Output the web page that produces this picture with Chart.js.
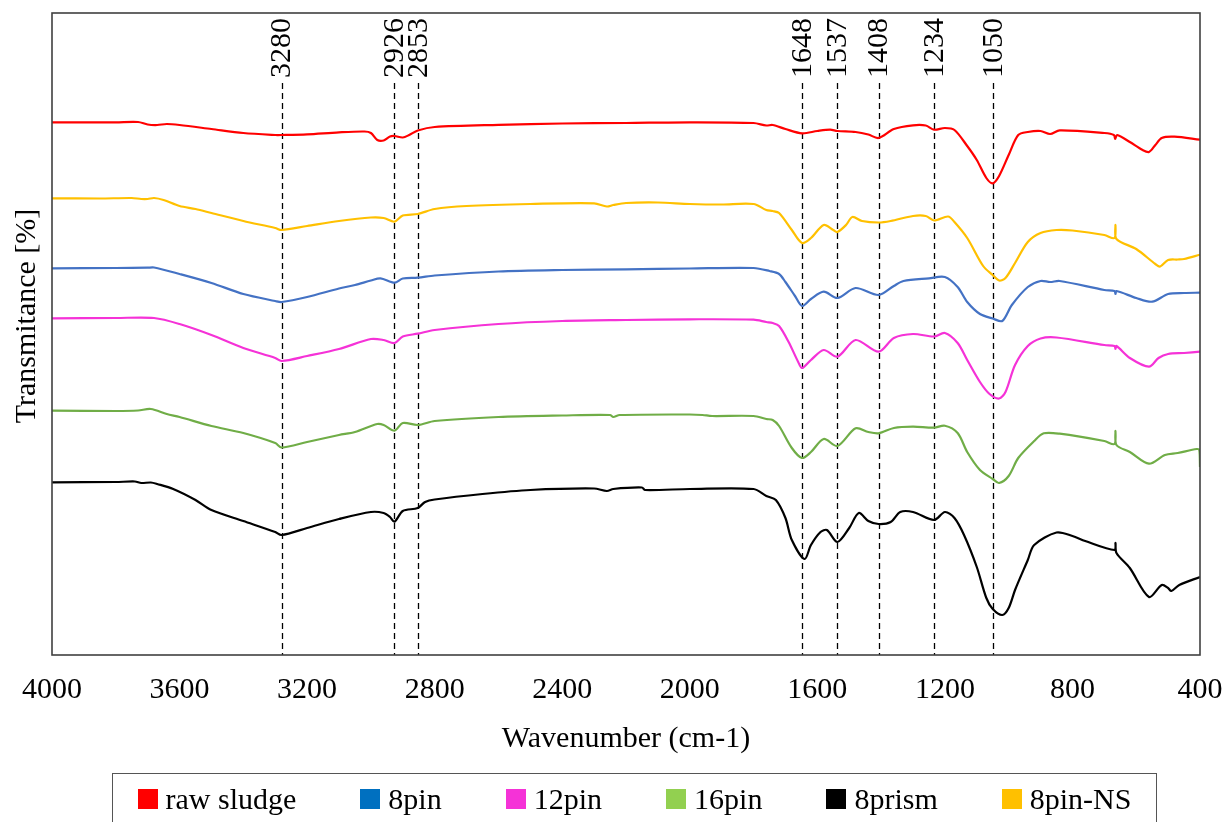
<!DOCTYPE html>
<html>
<head>
<meta charset="utf-8">
<script src="https://cdn.jsdelivr.net/npm/chart.js@4.4.1/dist/chart.umd.min.js"></script>
<style>
  html, body { margin: 0; padding: 0; background: #fff; }
  #wrap { position: relative; width: 1225px; height: 822px; overflow: hidden; font-family: "Liberation Serif", "Times New Roman", serif; }
  #c { position: absolute; left: 0; top: 0; }
  #legend { position: absolute; left: 112px; top: 773px; width: 1045px; height: 70px; border: 1.5px solid #555; box-sizing: border-box;
            display: flex; justify-content: center; align-items: flex-start; padding-top: 10px; gap: 64px; }
  .item { display: flex; align-items: center; font-size: 30px; color: #000; line-height: 30px; white-space: nowrap; }
  .sw { width: 20px; height: 20px; margin-right: 8px; }
</style>
</head>
<body>
<div id="wrap">
  <canvas id="c" width="1225" height="822"></canvas>
  <div id="legend"></div>
</div>
<script>
// ---- data (wavenumber cm-1, transmittance, offset spectra) ----
const seriesNames = ["raw sludge", "8pin", "12pin", "16pin", "8prism", "8pin-NS"];
const lineColors  = ["#FF0000", "#4472C4", "#F532D7", "#70AD47", "#000000", "#FFC000"];
const legendColors = ["#FF0000", "#0070C0", "#F532D7", "#92D050", "#000000", "#FFC000"];

const rawSludge = [[4000,53.27],[3800,53.27],[3730,53.3],[3700,53.05],[3670,53.0],[3640,53.1],[3600,53.0],[3500,52.6],[3400,52.2],[3300,52.0],
 [3280,52.0],[3200,52.07],[3100,52.27],[3020,52.35],[3000,52.2],[2980,51.5],[2960,51.45],[2940,51.85],[2926,51.9],[2900,51.75],
 [2880,52.0],[2853,52.45],[2800,52.8],[2600,53.02],[2400,53.15],[2200,53.2],[2000,53.27],[1800,53.2],[1760,52.95],[1740,53.0],
 [1700,52.6],[1648,52.17],[1600,52.4],[1560,52.53],[1537,52.4],[1480,52.3],[1440,52.05],[1408,51.7],[1360,52.6],[1300,52.97],
 [1260,52.95],[1234,52.53],[1200,52.7],[1170,52.5],[1130,50.9],[1100,49.5],[1070,47.7],[1050,47.17],[1030,47.9],[1000,50.0],
 [970,52.0],[940,52.3],[900,52.4],[870,52.1],[840,52.47],[700,52.2],[670,52.0],[666,51.6],[660,52.0],[620,51.3],
 [580,50.5],[560,50.3],[540,51.0],[520,51.7],[480,51.83],[400,51.53]];

const pin8 = [[4000,38.67],[3800,38.7],[3700,38.73],[3680,38.75],[3600,38.1],[3500,37.2],[3400,36.1],[3300,35.4],[3280,35.3],[3200,35.8],
 [3100,36.65],[3050,37.0],[3000,37.45],[2970,37.67],[2926,37.23],[2900,37.65],[2853,37.73],[2800,37.95],[2600,38.35],[2400,38.5],
 [2200,38.57],[2000,38.65],[1800,38.7],[1750,38.4],[1720,38.1],[1700,37.3],[1670,35.9],[1648,34.9],[1620,35.6],[1580,36.33],
 [1537,35.7],[1480,36.7],[1408,36.0],[1360,36.9],[1330,37.4],[1250,37.67],[1200,37.8],[1160,36.8],[1130,35.3],[1090,34.1],
 [1050,33.65],[1020,33.4],[990,35.0],[940,36.8],[900,37.4],[870,37.3],[840,37.4],[700,36.5],[668,36.4],[665,36.1],
 [662,36.4],[600,35.7],[550,35.33],[500,36.1],[450,36.2],[400,36.23]];

const pin12 = [[4000,33.67],[3800,33.7],[3680,33.7],[3600,33.1],[3500,32.0],[3400,30.7],[3300,29.7],[3280,29.4],[3200,29.9],[3100,30.6],
 [3000,31.6],[2960,31.5],[2926,31.2],[2900,31.85],[2853,32.13],[2800,32.5],[2600,33.1],[2400,33.4],[2200,33.5],[2000,33.57],
 [1800,33.53],[1760,33.3],[1740,33.2],[1720,32.9],[1690,31.3],[1660,29.3],[1648,28.7],[1620,29.5],[1580,30.5],[1537,29.83],
 [1480,31.5],[1408,30.33],[1360,31.7],[1300,32.1],[1234,31.85],[1200,32.2],[1160,31.2],[1130,29.5],[1090,27.3],[1060,26.1],
 [1030,25.65],[1010,26.3],[980,29.0],[940,30.9],[900,31.65],[850,31.75],[700,31.0],[668,30.9],[665,30.6],[662,30.9],
 [620,29.7],[560,28.83],[530,29.7],[500,30.1],[450,30.2],[400,30.33]];

const pin16 = [[4000,24.43],[3800,24.4],[3730,24.45],[3690,24.6],[3640,24.1],[3600,23.8],[3500,22.9],[3400,22.2],[3300,21.2],[3280,20.75],
 [3200,21.3],[3100,22.0],[3050,22.3],[2980,23.1],[2960,23.0],[2926,22.43],[2900,23.2],[2853,23.0],[2800,23.4],[2600,23.8],
 [2400,23.95],[2250,24.0],[2240,23.8],[2220,24.0],[2000,24.05],[1960,24.0],[1930,23.9],[1800,23.9],[1760,23.6],[1740,23.5],
 [1720,22.9],[1680,20.7],[1648,19.7],[1620,20.3],[1580,21.6],[1537,20.9],[1480,22.67],[1440,22.3],[1408,22.17],[1360,22.7],
 [1300,22.83],[1234,22.73],[1200,22.93],[1160,22.2],[1130,20.3],[1090,18.5],[1050,17.6],[1030,17.2],[1000,17.9],[970,19.7],
 [920,21.4],[890,22.17],[840,22.13],[700,21.4],[668,21.1],[665,22.4],[662,21.0],[620,20.3],[560,19.13],[510,20.0],
 [470,20.2],[410,20.6],[402,20.5],[400,18.8]];

const prism8 = [[4000,17.27],[3800,17.3],[3740,17.35],[3720,17.2],[3690,17.25],[3670,17.1],[3620,16.6],[3550,15.5],[3500,14.5],[3400,13.4],
 [3300,12.3],[3280,12.0],[3200,12.7],[3100,13.6],[3000,14.3],[2960,14.2],[2940,13.8],[2926,13.33],[2900,14.4],[2853,14.7],
 [2830,15.3],[2800,15.55],[2650,16.1],[2500,16.5],[2300,16.65],[2260,16.4],[2240,16.6],[2150,16.75],[2140,16.5],[2000,16.6],
 [1800,16.6],[1760,15.9],[1730,15.5],[1700,13.7],[1680,11.5],[1640,9.6],[1620,11.0],[1590,12.3],[1570,12.5],[1537,11.3],
 [1500,12.7],[1470,14.2],[1440,13.4],[1408,13.1],[1370,13.3],[1340,14.3],[1300,14.3],[1234,13.5],[1200,14.3],[1170,13.7],
 [1140,12.0],[1100,8.8],[1070,5.7],[1050,4.6],[1020,4.0],[1000,4.7],[980,6.5],[940,9.5],[920,11.0],[850,12.25],
 [800,11.9],[760,11.4],[668,10.5],[665,11.2],[662,10.2],[620,8.7],[560,5.8],[520,7.0],[500,6.7],[490,6.4],
 [465,7.0],[400,7.8]];

const pin8NS = [[4000,45.67],[3850,45.65],[3750,45.7],[3720,45.6],[3700,45.6],[3680,45.7],[3650,45.5],[3600,44.9],[3550,44.6],[3500,44.2],
 [3400,43.4],[3300,42.7],[3280,42.5],[3200,42.9],[3100,43.4],[3000,43.75],[2960,43.7],[2926,43.33],[2900,43.95],[2853,44.1],
 [2800,44.6],[2700,44.9],[2500,45.1],[2300,45.17],[2260,44.85],[2240,45.0],[2200,45.2],[2100,45.25],[2000,45.1],[1900,45.05],
 [1800,45.1],[1760,44.5],[1740,44.4],[1720,44.2],[1680,42.5],[1648,41.2],[1620,41.7],[1580,43.0],[1550,42.5],[1537,42.3],
 [1510,43.0],[1490,43.8],[1460,43.4],[1408,43.25],[1370,43.4],[1300,43.9],[1260,43.9],[1234,43.45],[1190,43.85],[1170,43.3],
 [1130,41.7],[1080,38.9],[1050,38.0],[1030,37.45],[1010,37.7],[980,39.2],[940,41.3],[900,42.2],[850,42.5],[800,42.45],
 [700,42.0],[668,41.7],[665,43.0],[662,41.6],[600,40.6],[540,39.1],[525,38.85],[500,39.5],[470,39.55],[450,39.6],
 [400,40.03]];

const seriesData = [rawSludge, pin8, pin12, pin16, prism8, pin8NS];

const peakPositions = [3280, 2926, 2853, 1648, 1537, 1408, 1234, 1050];
const peakLabels = ["3280", "2926", "2853", "1648", "1537", "1408", "1234", "1050"];
const xTicks = [4000, 3600, 3200, 2800, 2400, 2000, 1600, 1200, 800, 400];

const FONT = '"Liberation Serif", "Times New Roman", serif';

// ---- plugins ----
const framePlugin = {
  id: 'frame',
  beforeDatasetsDraw(chart) {
    const {ctx, chartArea: a, scales: {x}} = chart;
    ctx.save();
    ctx.strokeStyle = '#000';
    ctx.lineWidth = 1.3;
    ctx.setLineDash([6, 4]);
    peakPositions.forEach(p => {
      const px = Math.round(x.getPixelForValue(p)) + 0.5;
      ctx.beginPath();
      ctx.moveTo(px, 83);
      ctx.lineTo(px, a.bottom);
      ctx.stroke();
    });
    ctx.setLineDash([]);
    ctx.fillStyle = '#000';
    ctx.font = '30px ' + FONT;
    ctx.textAlign = 'left';
    ctx.textBaseline = 'middle';
    peakPositions.forEach((p, i) => {
      const px = x.getPixelForValue(p);
      ctx.save();
      ctx.translate(px + 1, 78);
      ctx.rotate(-Math.PI / 2);
      ctx.fillText(peakLabels[i], 0, 0);
      ctx.restore();
    });
    ctx.restore();
  },
  afterDraw(chart) {
    const {ctx, chartArea: a} = chart;
    ctx.save();
    ctx.strokeStyle = '#404040';
    ctx.lineWidth = 1.6;
    ctx.strokeRect(a.left, a.top, a.right - a.left, a.bottom - a.top);
    // y axis title
    ctx.fillStyle = '#000';
    ctx.font = '30px ' + FONT;
    ctx.textAlign = 'center';
    ctx.textBaseline = 'middle';
    ctx.translate(27, 316);
    ctx.rotate(-Math.PI / 2);
    ctx.fillText('Transmitance [%]', 0, 0);
    ctx.restore();
  }
};

Chart.defaults.font.family = FONT;
Chart.defaults.color = '#000';

new Chart(document.getElementById('c'), {
  type: 'line',
  data: {
    datasets: seriesData.map((d, i) => ({
      label: seriesNames[i],
      data: d.map(([x, y]) => ({x, y})),
      borderColor: lineColors[i],
      backgroundColor: lineColors[i],
      borderWidth: 2.2,
      pointRadius: 0,
      tension: 0.3,
      fill: false
    }))
  },
  options: {
    responsive: false,
    animation: false,
    events: [],
    layout: { padding: { left: 52, right: 25, top: 13, bottom: 57 } },
    plugins: { legend: { display: false }, tooltip: { enabled: false } },
    scales: {
      x: {
        type: 'linear',
        reverse: true,
        min: 400, max: 4000,
        offset: false,
        grid: { display: false, drawTicks: false },
        border: { display: false },
        afterBuildTicks: (s) => { s.ticks = xTicks.map(v => ({value: v})); },
        afterFit: (s) => { s.height = 110; s.paddingLeft = 0; s.paddingRight = 0; },
        ticks: { autoSkip: false, maxRotation: 0, padding: 17, font: { size: 30, family: FONT }, color: '#000',
                 callback: (v) => String(v) },
        title: { display: true, text: 'Wavenumber (cm-1)', font: { size: 30, family: FONT }, color: '#000',
                 padding: { top: 0, bottom: 8 } }
      },
      y: {
        display: false,
        min: 0, max: 64.2
      }
    }
  },
  plugins: [framePlugin]
});

// ---- legend ----
const leg = document.getElementById('legend');
seriesNames.forEach((n, i) => {
  const it = document.createElement('div');
  it.className = 'item';
  const sw = document.createElement('span');
  sw.className = 'sw';
  sw.style.background = legendColors[i];
  const t = document.createElement('span');
  t.textContent = n;
  it.appendChild(sw); it.appendChild(t);
  leg.appendChild(it);
});
</script>
</body>
</html>
